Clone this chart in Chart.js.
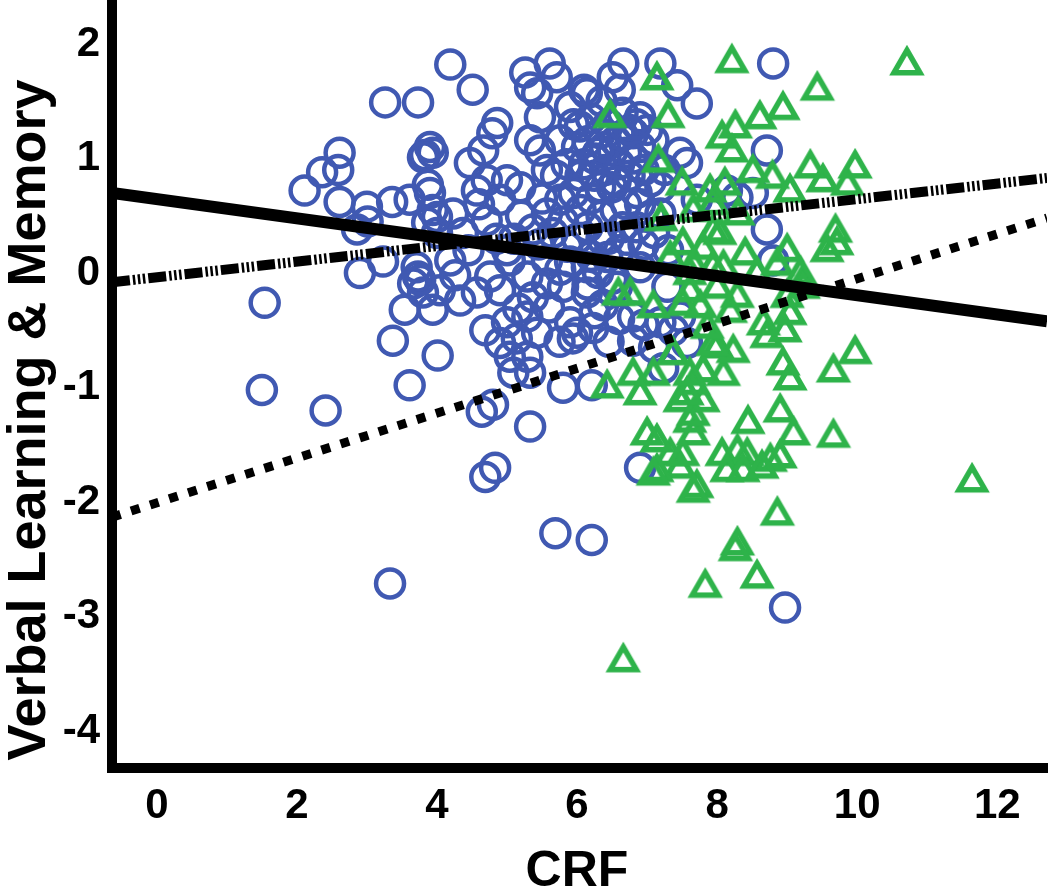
<!DOCTYPE html>
<html>
<head>
<meta charset="utf-8">
<script src="https://cdn.jsdelivr.net/npm/chart.js@4/dist/chart.umd.min.js"></script>
<style>
  html, body { margin: 0; padding: 0; background: #fff; overflow: hidden; }
  #wrap { width: 1050px; height: 888px; position: relative; }
</style>
</head>
<body>
<div id="wrap"><canvas id="chart"></canvas></div>
<script>
// axis ticks
const xTicks = [0, 2, 4, 6, 8, 10, 12];
const yTicks = [-4, -3, -2, -1, 0, 1, 2];

// circles (CRF, verbal learning & memory)
const circles = [
  [1.54,-0.26],[1.50,-1.02],[2.41,-1.20],[3.33,-2.71],
  [2.11,0.72],[2.36,0.88],[2.59,0.90],[2.61,1.05],[2.61,0.62],[3.00,0.58],[3.36,0.62],
  [2.86,0.38],[3.01,0.45],[2.90,0.00],[3.23,0.10],[3.26,1.49],[3.73,1.49],[4.19,1.82],
  [3.83,1.03],[3.94,1.05],[3.90,0.70],[3.87,0.77],[3.86,0.44],[4.00,0.49],[3.37,-0.59],
  [3.61,-0.98],[4.01,-0.72],[3.54,-0.32],[3.94,-0.32],[3.66,-0.09],[3.80,-0.17],[3.73,-0.03],
  [4.69,-1.78],[4.83,-1.70],[5.69,-2.27],[6.21,-2.33],[5.33,-1.34],[6.90,-1.70],[8.97,-2.92],
  [4.64,-1.21],[4.80,-1.15],[5.80,-1.00],[6.21,-0.98],[5.33,-0.87],[5.09,-0.87],[5.04,-0.73],
  [5.29,-0.73],[5.14,-0.57],[4.90,-0.61],[4.69,-0.50],[5.00,-0.43],[5.29,-0.38],[5.43,-0.52],
  [5.16,-0.31],[5.94,-0.57],[5.90,-0.43],[6.23,-0.48],[6.80,-0.59],[7.19,-0.43],[7.23,-0.83],
  [7.57,-0.61],[4.04,-0.15],[3.76,-0.06],[4.26,-0.02],[4.57,-0.17],[4.33,-0.24],[4.76,-0.03],
  [4.90,-0.15],[5.37,-0.21],[5.57,-0.09],[5.76,0.03],[5.80,-0.12],[6.00,-0.52],[6.14,-0.17],
  [6.37,-0.28],[6.57,-0.12],[6.80,-0.38],[7.29,-0.12],[7.37,-0.50],[7.47,-0.38],
  [4.51,1.60],[5.26,1.75],[5.61,1.83],[5.71,1.71],[5.33,1.62],[5.43,1.57],[6.14,1.57],
  [6.51,1.71],[6.66,1.83],[6.61,1.60],[7.19,1.83],[7.43,1.64],[7.71,1.48],[5.47,1.36],
  [5.33,1.16],[4.86,1.31],[4.79,1.22],[4.66,1.07],[4.47,0.96],[3.90,1.10],[3.80,1.01],
  [3.61,0.64],[3.94,0.55],[4.23,0.52],[4.57,0.72],[4.71,0.81],[5.00,0.81],[4.90,0.64],
  [5.19,0.75],[5.47,1.07],[5.57,0.90],[5.76,1.16],[6.04,1.28],[6.33,1.22],[6.51,1.07],
  [6.80,1.22],[6.90,1.36],[7.09,1.16],[7.47,1.05],[7.57,0.96],[7.19,0.75],[7.19,0.52],
  [6.33,0.75],[5.76,0.64],[5.57,0.52],
  [3.71,0.05],[4.19,0.11],[5.04,0.11],[5.29,-0.03],[5.57,0.11],[5.86,0.23],[6.14,0.05],
  [6.43,0.14],[6.71,0.29],[6.90,0.05],[4.00,0.35],[4.37,0.35],[4.71,0.46],[5.37,0.38],
  [8.80,1.83],[8.71,1.07],[8.14,0.72],[8.29,0.66],[8.51,0.70],[7.71,0.64],[8.71,0.38],[8.80,0.11],
  [7.10,-0.65],[6.95,-0.45],
  [5.90,1.45],[6.00,1.10],[6.10,0.95],[6.20,1.35],[6.25,0.85],[6.30,1.05],[6.40,0.90],
  [6.45,1.30],[6.50,0.75],[6.55,1.15],[6.60,0.95],[6.65,1.40],[6.70,1.05],[6.75,0.85],
  [6.80,1.00],[6.85,0.70],[6.90,1.10],[6.95,0.90],[7.00,1.25],[7.05,0.80],[5.95,0.70],
  [6.05,0.55],[6.15,0.40],[6.20,0.65],[6.35,0.50],[6.45,0.30],[6.55,0.55],[6.60,0.20],
  [6.70,0.60],[6.85,0.40],[6.95,0.25],[7.05,0.50],[5.85,0.95],[5.70,0.85],[5.65,0.35],
  [5.80,0.45],[5.50,0.65],[5.45,0.25],[5.20,0.50],[5.10,0.30],[5.00,0.20],[4.85,0.30],
  [6.00,0.30],[6.30,0.00],[6.50,-0.05],[6.25,-0.35],[6.10,1.60],[6.35,1.50],[5.95,1.30],
  [6.75,1.25],[7.10,0.35],[7.30,0.20],[7.25,0.90],[6.15,-0.10],[5.60,-0.30],[5.75,-0.60],
  [6.45,-0.60],[6.60,-0.40],[4.45,0.20],[4.60,0.60],
  [6.15,1.15],[6.40,1.10],[6.65,1.20],[6.85,1.30],[6.25,1.00],[6.55,0.80],[6.05,0.85],
  [6.35,0.30],[6.65,0.40],[6.90,0.60],[5.90,0.10],[6.20,0.15]
];

// triangles
const triangles = [
  [6.47,1.40],[7.14,1.73],[7.30,1.40],[8.21,1.88],[7.16,1.01],[7.50,0.81],[8.07,1.22],
  [8.26,1.31],[8.21,1.10],[8.11,0.81],[7.94,0.64],[7.66,0.58],[7.51,0.29],[7.94,0.40],
  [7.33,0.17],[7.66,0.11],[7.94,0.09],[6.59,-0.15],[6.76,-0.15],
  [10.71,1.86],[9.43,1.64],[8.94,1.47],[8.61,1.39],[8.51,0.92],[8.79,0.87],[9.04,0.75],
  [9.33,0.96],[9.51,0.84],[9.86,0.81],[9.97,0.96],[9.69,0.40],[9.71,0.29],[9.57,0.23],
  [9.00,0.23],[8.86,0.11],[8.04,0.38],[8.57,0.03],[9.23,-0.03],
  [9.97,-0.66],[9.66,-0.82],[8.94,-0.76],[9.04,-0.89],[9.66,-1.39],[11.64,-1.78],[8.90,-1.17],
  [9.09,-1.37],[8.44,-1.27],[8.86,-2.07],[8.29,-2.33],[8.07,-1.55],[8.29,-1.52],[8.43,-1.55],
  [8.76,-1.60],[8.90,-1.57],[8.14,-1.69],[8.37,-1.69],[8.64,-1.66],[7.71,-1.83],[7.47,-1.66],
  [7.33,-1.55],[7.66,-1.37],[7.61,-1.26],[7.80,-1.08],[7.47,-1.08],[7.66,-0.93],[7.80,-0.82],
  [8.09,-0.85],[8.00,-0.61],[8.23,-0.65],[7.14,-1.43],[7.09,-0.85],[7.37,-0.67],[7.94,-0.59],
  [8.71,-0.52],[8.97,-0.47],[8.66,-0.41],[9.04,-0.32],[9.00,-0.17],[9.23,-0.09],[8.19,-0.30],
  [7.86,-0.44],[8.00,-0.09],[7.76,-0.26],[7.61,0.03],[8.09,0.09],[8.29,-0.17],[9.19,0.03],
  [7.14,-1.69],[8.26,-2.38],[8.57,-2.62],[7.83,-2.70],[6.66,-3.35],[7.66,-1.87],
  [6.43,-0.96],[6.80,-0.85],[6.90,-1.02],[7.00,-1.37],[7.09,-1.72],[7.51,-1.55],[7.66,-1.20],
  [7.57,-1.02],[7.61,-0.85],[7.09,-0.26],[7.51,-0.24],[7.61,-0.12],
  [7.90,0.75],[8.30,0.55],[7.20,0.50],[8.40,0.20],[7.80,0.25]
];

// fitted lines, end points read at the axis limits
const solidFit = [[-0.64, 0.70], [12.71, -0.42]];
const dashDotFit = [[-0.64, -0.08], [12.71, 0.83]];
const dottedFit = [[-0.64, -2.13], [12.71, 0.48]];

const toPts = arr => arr.map(p => ({ x: p[0], y: p[1] }));
const FONT = '"Liberation Sans", Arial, sans-serif';

// open triangle marker, centred on its box (Chart.js's own triangle sits high)
function makeTriangle(color) {
  const c = document.createElement('canvas');
  c.width = 46; c.height = 46;
  const g = c.getContext('2d');
  const w = 26, h = w * Math.sqrt(3) / 2, cx = 23, cy = 24.4;
  g.strokeStyle = color;
  g.lineWidth = 5.5;
  g.lineJoin = 'miter';
  g.beginPath();
  g.moveTo(cx, cy - h / 2);
  g.lineTo(cx + w / 2, cy + h / 2);
  g.lineTo(cx - w / 2, cy + h / 2);
  g.closePath();
  g.stroke();
  return c;
}

// axis titles, placed by hand
const titlePlugin = {
  id: 'axisTitles',
  afterDraw: (chart) => {
    const ctx = chart.ctx;
    ctx.save();
    ctx.fillStyle = '#000';
    ctx.font = 'bold 50px ' + FONT;
    ctx.textAlign = 'center';
    ctx.textBaseline = 'alphabetic';
    ctx.fillText('CRF', 577, 886);
    ctx.restore();

    ctx.save();
    ctx.fillStyle = '#000';
    ctx.font = 'bold 54px ' + FONT;
    ctx.textAlign = 'center';
    ctx.textBaseline = 'alphabetic';
    ctx.translate(45, 420);
    ctx.rotate(-Math.PI / 2);
    ctx.fillText('Verbal Learning & Memory', 0, 0);
    ctx.restore();
  }
};

function noPadding(s) {
  s.paddingLeft = 0; s.paddingRight = 0; s.paddingTop = 0; s.paddingBottom = 0;
}

new Chart(document.getElementById('chart'), {
  type: 'scatter',
  data: {
    datasets: [
      {
        type: 'line', data: toPts(solidFit), order: 0,
        borderColor: '#000', borderWidth: 12, pointRadius: 0, fill: false
      },
      {
        type: 'line', data: toPts(dashDotFit), order: 0,
        borderColor: '#000', borderWidth: 10, pointRadius: 0, fill: false,
        borderDash: [18, 3, 2.5, 2.5, 2.5, 2.5, 2.5, 3]
      },
      {
        type: 'line', data: toPts(dottedFit), order: 0,
        borderColor: '#000', borderWidth: 9, pointRadius: 0, fill: false,
        borderDash: [9, 11]
      },
      {
        data: toPts(triangles), order: 1,
        pointStyle: makeTriangle('#2eb34a'), pointRadius: 16,
        borderColor: '#2eb34a', backgroundColor: 'rgba(0,0,0,0)', borderWidth: 5
      },
      {
        data: toPts(circles), order: 2,
        pointStyle: 'circle', pointRadius: 14,
        borderColor: '#4059b2', backgroundColor: 'rgba(0,0,0,0)', borderWidth: 4.5
      }
    ]
  },
  options: {
    responsive: true,
    maintainAspectRatio: false,
    animation: false,
    events: [],
    layout: { autoPadding: false, padding: { top: 5, right: 3, left: 0, bottom: 0 } },
    plugins: { legend: { display: false }, tooltip: { enabled: false } },
    scales: {
      x: {
        type: 'linear', min: -0.64, max: 12.71,
        afterBuildTicks: s => { s.ticks = xTicks.map(v => ({ value: v })); },
        afterFit: s => { s.height = 120; noPadding(s); },
        border: { display: true, width: 10, color: '#000' },
        grid: { drawOnChartArea: false, drawTicks: true, tickLength: 5, tickWidth: 4, tickColor: '#000' },
        ticks: { color: '#000', padding: 8, maxRotation: 0, autoSkip: false,
                 font: { family: FONT, size: 42, weight: 'bold' } }
      },
      y: {
        type: 'linear', min: -4.32, max: 2.34,
        afterBuildTicks: s => { s.ticks = yTicks.map(v => ({ value: v })); },
        afterFit: s => { s.width = 112; noPadding(s); },
        border: { display: true, width: 10, color: '#000' },
        grid: { drawOnChartArea: false, drawTicks: true, tickLength: 5, tickWidth: 4, tickColor: '#000' },
        ticks: { color: '#000', padding: 7, autoSkip: false,
                 font: { family: FONT, size: 42, weight: 'bold' } }
      }
    }
  },
  plugins: [titlePlugin]
});
</script>
</body>
</html>
